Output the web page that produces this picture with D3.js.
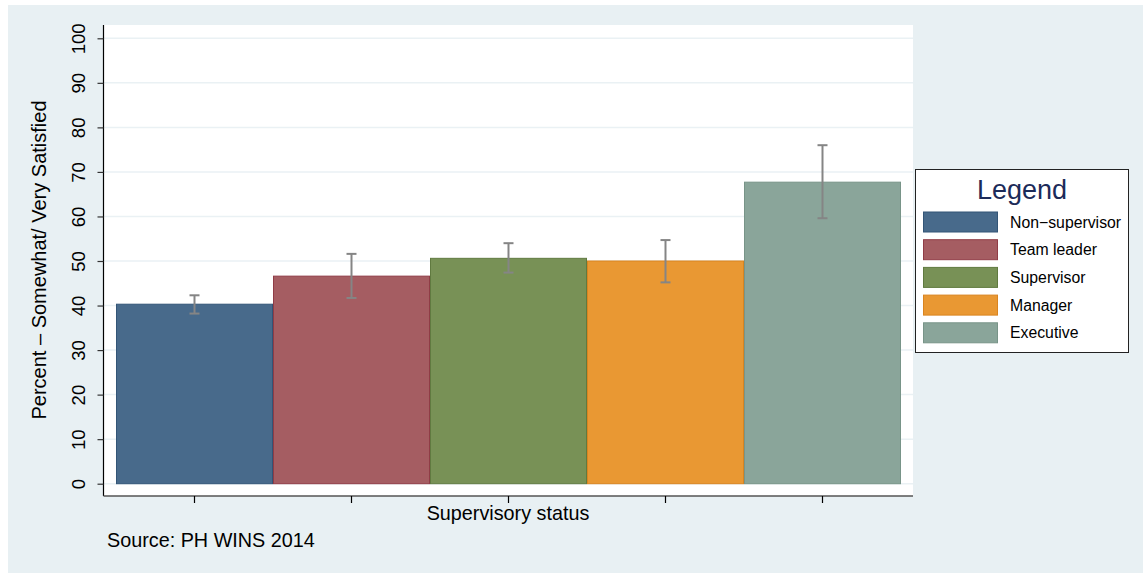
<!DOCTYPE html>
<html><head><meta charset="utf-8">
<script src="https://cdn.jsdelivr.net/npm/d3@7/dist/d3.min.js"></script>
<style>body{margin:0;background:#fff}svg{display:block}text{font-family:"Liberation Sans",Arial,sans-serif}</style>
</head><body><svg id="c" width="1143" height="573"></svg>
<script>
const categories = ["Non\u2212supervisor","Team leader","Supervisor","Manager","Executive"];
const values = [40.3, 46.6, 50.6, 50.0, 67.7];
const lower = [38.2, 41.7, 47.4, 45.2, 59.6];
const upper = [42.3, 51.6, 54.0, 54.7, 76.0];
const colors = ["#486a8b","#a55d62","#789156","#e99833","#8aa59a"];
const strokes = ["#335577","#903c46","#607a40","#d98420","#789488"];
const yTicks = [0,10,20,30,40,50,60,70,80,90,100];

const svg = d3.select("#c");
svg.append("rect").attr("x",8).attr("y",5).attr("width",1135).attr("height",568).attr("fill","#e8f0f3");

const L=103.5, R=913, T=25, B=496;
svg.append("rect").attr("x",L).attr("y",T).attr("width",R-L).attr("height",B-T).attr("fill","#fff");

const y = d3.scaleLinear().domain([0,100]).range([483.7,38.3]);
const x = d3.scaleBand().domain(categories).range([116,901]).padding(0);

// grid
svg.append("g").selectAll("line").data(yTicks).join("line")
  .attr("x1",L).attr("x2",R).attr("y1",d=>y(d)).attr("y2",d=>y(d))
  .attr("stroke","#eaf1f4").attr("stroke-width",1.5);

// bars
svg.append("g").selectAll("rect").data(categories).join("rect")
  .attr("x",d=>x(d)+0.5).attr("width",x.bandwidth()-1)
  .attr("y",(d,i)=>y(values[i])).attr("height",(d,i)=>y(0)-y(values[i]))
  .attr("fill",(d,i)=>colors[i]).attr("stroke",(d,i)=>strokes[i]).attr("stroke-width",1);

// error bars
const eb = svg.append("g").attr("stroke","#858585").attr("stroke-width",2);
categories.forEach((c,i)=>{
  const cx = x(c)+x.bandwidth()/2;
  eb.append("line").attr("x1",cx).attr("x2",cx).attr("y1",y(upper[i])).attr("y2",y(lower[i]));
  eb.append("line").attr("x1",cx-5).attr("x2",cx+5).attr("y1",y(upper[i])).attr("y2",y(upper[i]));
  eb.append("line").attr("x1",cx-5).attr("x2",cx+5).attr("y1",y(lower[i])).attr("y2",y(lower[i]));
});

// y axis
const ya = svg.append("g").attr("transform",`translate(${L},0)`)
  .call(d3.axisLeft(y).tickValues(yTicks).tickSize(6).tickPadding(0).tickFormat(d3.format("d")));
ya.select(".domain").attr("d",`M0,${T}V${B}`).attr("stroke","#000").attr("stroke-width",1.2);
ya.selectAll(".tick line").attr("stroke","#333").attr("stroke-width",1.2);
ya.selectAll(".tick text").attr("font-size",18.5).attr("fill","#000")
  .attr("transform","translate(-24.5,0) rotate(-90)").attr("text-anchor","middle").attr("x",0).attr("y",0).attr("dy","0.35em");

// x axis
const xa = svg.append("g").attr("transform",`translate(0,${B})`)
  .call(d3.axisBottom(x).tickSize(7).tickFormat(""));
xa.select(".domain").attr("d",`M${L},0H${R}`).attr("stroke","#555").attr("stroke-width",1.5);
xa.selectAll(".tick line").attr("stroke","#000").attr("stroke-width",1.2);

svg.append("text").attr("x",508).attr("y",520).attr("text-anchor","middle").attr("font-size",19.8).text("Supervisory status");
svg.append("text").attr("transform","translate(46,260) rotate(-90)").attr("text-anchor","middle").attr("font-size",20).text("Percent \u2013 Somewhat/ Very Satisfied");
svg.append("text").attr("x",107).attr("y",547).attr("font-size",19.8).text("Source: PH WINS 2014");

// legend
const lg = svg.append("g");
lg.append("rect").attr("x",915.5).attr("y",169.5).attr("width",213).attr("height",183).attr("fill","#fff").attr("stroke","#222").attr("stroke-width",1);
lg.append("text").attr("x",1022).attr("y",199).attr("text-anchor","middle").attr("font-size",27).attr("fill","#1c2b59").text("Legend");
categories.forEach((c,i)=>{
  const yy = 212 + i*27.7;
  lg.append("rect").attr("x",923.5).attr("y",yy).attr("width",74).attr("height",20).attr("fill",colors[i]).attr("stroke",strokes[i]);
  lg.append("text").attr("x",1010).attr("y",yy+10).attr("dy","0.35em").attr("font-size",15.8).text(c);
});
</script></body></html>
